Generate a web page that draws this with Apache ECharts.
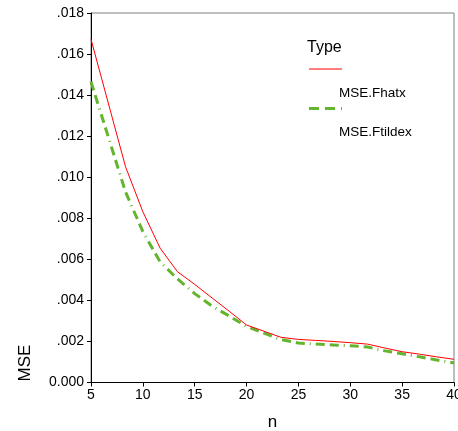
<!DOCTYPE html>
<html>
<head>
<meta charset="utf-8">
<script src="https://cdn.jsdelivr.net/npm/echarts@6/dist/echarts.min.js"></script>
<style>html,body{margin:0;padding:0;background:#fff}#c{width:458px;height:431px}</style>
</head>
<body>
<div id="c"></div>
<script>
const nValues = [5, 8.33, 10, 11.67, 13.33, 15, 16.67, 18.33, 20, 23.33, 25, 26.67, 28.33, 30, 31.67, 33.33, 35, 36.67, 38.33, 40];
const mseFhatx = [0.01672, 0.01051, 0.00832, 0.00654, 0.0054, 0.00478, 0.00412, 0.00347, 0.0028, 0.0022, 0.0021, 0.00205, 0.0020, 0.00194, 0.00187, 0.00168, 0.0015, 0.00138, 0.00125, 0.00113];
const mseFtildex = [0.01465, 0.00928, 0.00735, 0.00587, 0.00505, 0.00433, 0.00372, 0.00324, 0.00273, 0.00209, 0.00192, 0.00187, 0.00183, 0.00179, 0.00173, 0.00154, 0.0014, 0.00125, 0.0011, 0.00095];
const seriesNames = ['MSE.Fhatx', 'MSE.Ftildex'];
const legendTitle = 'Type';
const xName = 'n';
const yName = 'MSE';

const font = 'Liberation Sans, Arial, sans-serif';
const red = '#ff0000';
const green = '#63b52e';

const chart = echarts.init(document.getElementById('c'));
chart.setOption({
  animation: false,
  backgroundColor: '#fff',
  grid: { left: 91, right: 4, top: 13, bottom: 48.5, outerBoundsMode: 'none', containLabel: false,
    show: true, borderColor: '#808080', borderWidth: 1, backgroundColor: 'transparent' },
  xAxis: {
    type: 'value', min: 5, max: 40, interval: 5,
    name: xName, nameLocation: 'middle', nameGap: 31,
    nameTextStyle: { fontFamily: font, fontSize: 17, color: '#000' },
    axisLine: { show: true, onZero: false, lineStyle: { color: '#000', width: 1 } },
    axisTick: { show: true, length: 4, lineStyle: { color: '#000' } },
    axisLabel: { fontFamily: font, fontSize: 14, color: '#000', margin: 6 },
    splitLine: { show: false }
  },
  yAxis: {
    type: 'value', min: 0, max: 0.018, interval: 0.002,
    axisLine: { show: true, lineStyle: { color: '#000', width: 1 } },
    axisTick: { show: true, length: 4, lineStyle: { color: '#000' } },
    axisLabel: { fontFamily: font, fontSize: 14, color: '#000', margin: 7,
      formatter: v => v === 0 ? '0.000' : v.toFixed(3).replace(/^0/, '') },
    splitLine: { show: false }
  },
  series: [
    { name: seriesNames[0], type: 'line', symbol: 'none', data: nValues.map((n, i) => [n, mseFhatx[i]]),
      lineStyle: { color: red, width: 1 }, z: 3 },
    { name: seriesNames[1], type: 'line', symbol: 'none', data: nValues.map((n, i) => [n, mseFtildex[i]]),
      lineStyle: { color: green, width: 3, type: [9, 5, 9, 5, 1, 5] }, z: 2 }
  ],
  graphic: [
    { type: 'text', x: 25, y: 363, rotation: Math.PI / 2,
      style: { text: yName, font: '17px ' + font, fill: '#000', textAlign: 'center', textVerticalAlign: 'middle' } },
    { type: 'text', x: 307, y: 48,
      style: { text: legendTitle, font: '16px ' + font, fill: '#000', textAlign: 'left', textVerticalAlign: 'middle' } },
    { type: 'line', shape: { x1: 309, y1: 69, x2: 342, y2: 69 }, style: { stroke: red, lineWidth: 1 } },
    { type: 'text', x: 339, y: 93,
      style: { text: seriesNames[0], font: '13.5px ' + font, fill: '#000', textAlign: 'left', textVerticalAlign: 'middle' } },
    { type: 'line', shape: { x1: 309, y1: 108.5, x2: 342, y2: 108.5 }, style: { stroke: green, lineWidth: 3, lineDash: [10, 6, 10, 6, 1, 6] } },
    { type: 'text', x: 339, y: 132,
      style: { text: seriesNames[1], font: '13.5px ' + font, fill: '#000', textAlign: 'left', textVerticalAlign: 'middle' } }
  ]
});
</script>
</body>
</html>
